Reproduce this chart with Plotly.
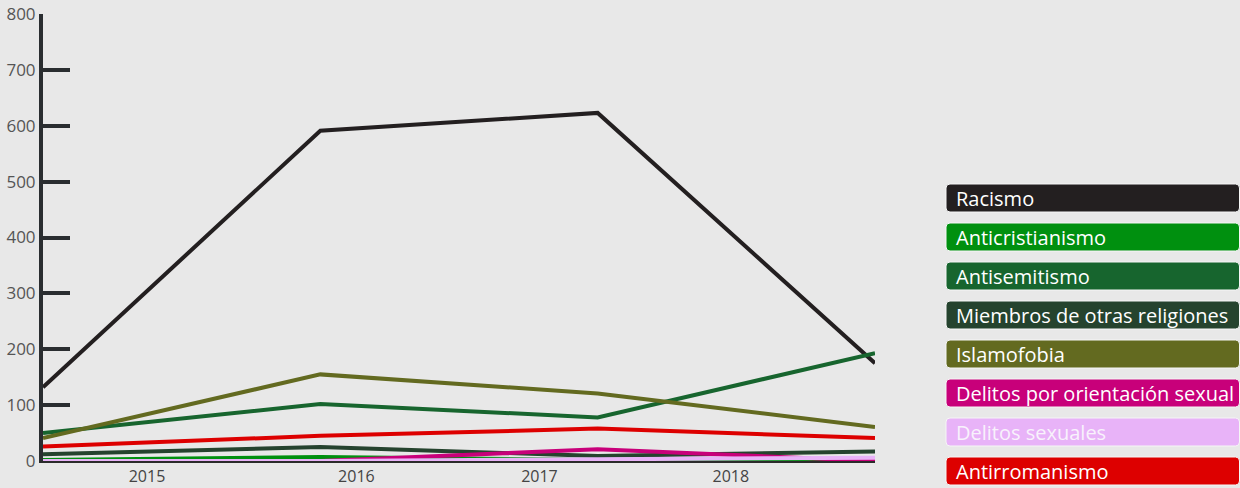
import plotly.graph_objects as go

years = ["2015", "2016", "2017", "2018"]
x_index = [0, 1, 2, 3]

series_names = [
    "Racismo",
    "Anticristianismo",
    "Antisemitismo",
    "Miembros de otras religiones",
    "Islamofobia",
    "Delitos por orientación sexual",
    "Delitos sexuales",
    "Antirromanismo",
]
racismo = [132, 591, 623, 175]
anticristianismo = [2, 7, 2, 0]
antisemitismo = [50, 102, 78, 193]
miembros = [12, 25, 9, 17]
islamofobia = [41, 155, 121, 61]
orientacion = [0, 0, 21, 0]
sexuales = [0, 0, 3, 6]
antirromanismo = [26, 45, 58, 41]

values = [racismo, anticristianismo, antisemitismo, miembros,
          islamofobia, orientacion, sexuales, antirromanismo]
colors = ["#231f20", "#00900f", "#17652e", "#25432e",
          "#636a20", "#c8007a", "#e8b3f8", "#dd0000"]
text_colors = ["#ffffff"] * 6 + ["#f8f2fc", "#ffffff"]

W, H = 1240, 488
L, R, T, B = 43, 365, 14, 27
pw, ph = W - L - R, H - T - B


def px(xp):
    return (xp - L) / pw


def py(yp):
    return (H - B - yp) / ph


def rounded_box(x0, y0, x1, y1, r=4):
    # pixel coords -> paper coords path with rounded corners
    pts = []
    pts.append(f"M {px(x0 + r)},{py(y0)}")
    pts.append(f"L {px(x1 - r)},{py(y0)}")
    pts.append(f"Q {px(x1)},{py(y0)} {px(x1)},{py(y0 + r)}")
    pts.append(f"L {px(x1)},{py(y1 - r)}")
    pts.append(f"Q {px(x1)},{py(y1)} {px(x1 - r)},{py(y1)}")
    pts.append(f"L {px(x0 + r)},{py(y1)}")
    pts.append(f"Q {px(x0)},{py(y1)} {px(x0)},{py(y1 - r)}")
    pts.append(f"L {px(x0)},{py(y0 + r)}")
    pts.append(f"Q {px(x0)},{py(y0)} {px(x0 + r)},{py(y0)}")
    pts.append("Z")
    return " ".join(pts)


fig = go.Figure()
for name, vals, col in zip(series_names, values, colors):
    fig.add_trace(go.Scatter(x=x_index, y=vals, mode="lines", name=name,
                             line=dict(color=col, width=4),
                             showlegend=False, cliponaxis=False))

# custom legend boxes
for i, (name, col, tc) in enumerate(zip(series_names, colors, text_colors)):
    top = 184 + i * 39.0
    fig.add_shape(type="path", xref="paper", yref="paper",
                  path=rounded_box(946, top, 1239.5, top + 28),
                  fillcolor=col, line=dict(color="#f6f6f6", width=1),
                  layer="above")
    fig.add_annotation(
        xref="paper", yref="paper",
        x=px(954), xanchor="left",
        y=py(top + 14.5), yanchor="middle",
        text=name, showarrow=False, align="left",
        font=dict(family="Open Sans", size=20, color=tc),
    )

fig.update_layout(
    width=W, height=H,
    margin=dict(l=L, r=R, t=T, b=B),
    paper_bgcolor="#e8e8e8", plot_bgcolor="#e8e8e8",
    font=dict(family="Open Sans", color="#555555"),
    showlegend=False,
)
fig.update_xaxes(
    range=[0, 3], tickmode="array",
    tickvals=[0.375, 1.13, 1.79, 2.48], ticktext=years,
    showgrid=False, zeroline=False, ticks="", automargin=False,
    showline=True, linecolor="#2b2b2b", linewidth=2,
    tickfont=dict(size=16, color="#444444"),
)
fig.update_yaxes(
    range=[0, 800], tickvals=[0, 100, 200, 300, 400, 500, 600, 700, 800],
    showgrid=False, zeroline=False, automargin=False,
    showline=True, linecolor="#2a2d30", linewidth=4,
    ticks="inside", ticklen=27, tickwidth=4, tickcolor="#2a2d30",
    tickfont=dict(size=17, color="#555555"),
)

fig.write_html("out.html", config={"displayModeBar": False},
               post_script="document.body.style.margin='0';document.body.style.background='#e8e8e8';")
